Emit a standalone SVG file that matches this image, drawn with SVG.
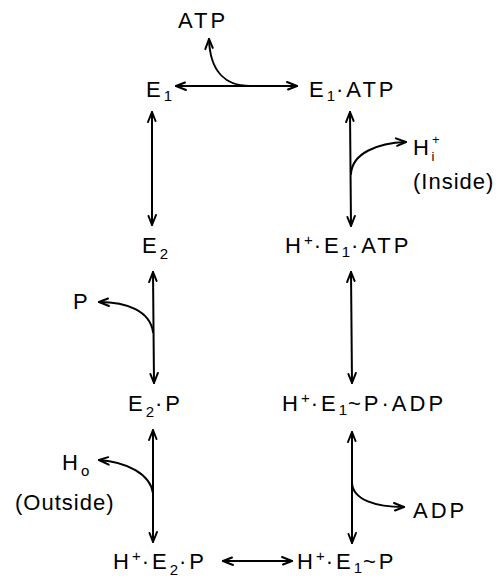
<svg xmlns="http://www.w3.org/2000/svg" width="504" height="581" viewBox="0 0 504 581">
<style>
text{font-family:"Liberation Sans",Arial,sans-serif;font-size:22px;fill:#000;letter-spacing:3px}
.s{font-size:15px;letter-spacing:1px}
.t{font-size:13px;letter-spacing:0}
.p{letter-spacing:1px}
.c{fill:none;stroke:#000;stroke-width:2;stroke-linecap:round}
</style>
<defs>
<marker id="a" viewBox="-12 -6 14 12" markerWidth="14" markerHeight="12" refX="0" refY="0" orient="auto-start-reverse" markerUnits="userSpaceOnUse">
<path d="M-10,-4 L0,0 L-9,3.5" fill="none" stroke="#000" stroke-width="2" stroke-linecap="round" stroke-linejoin="round"/>
</marker>
</defs>
<rect width="504" height="581" fill="#fff"/>
<g id="connectors">
<path class="c" d="M176,86 L297,86" marker-start="url(#a)" marker-end="url(#a)"/>
<path class="c" d="M250,86 C226,86 210,72 209,39" marker-end="url(#a)"/>
<path class="c" d="M152,112 L152,225" marker-start="url(#a)" marker-end="url(#a)"/>
<path class="c" d="M350,112 L351,226" marker-start="url(#a)" marker-end="url(#a)"/>
<path class="c" d="M351,174 C352,153 378,143 406,142" marker-end="url(#a)"/>
<path class="c" d="M153,272 L154,383" marker-start="url(#a)" marker-end="url(#a)"/>
<path class="c" d="M153,332 C150,311 127,302 99,302" marker-end="url(#a)"/>
<path class="c" d="M351,272 L352,383" marker-start="url(#a)" marker-end="url(#a)"/>
<path class="c" d="M153,430 L153,542" marker-start="url(#a)" marker-end="url(#a)"/>
<path class="c" d="M153,493 C150,474 127,462 99,460" marker-end="url(#a)"/>
<path class="c" d="M352,432 L352,543" marker-start="url(#a)" marker-end="url(#a)"/>
<path class="c" d="M352,483 C353,500 376,507 404,507" marker-end="url(#a)"/>
<path class="c" d="M223,561 L292,561" marker-start="url(#a)" marker-end="url(#a)"/>
</g>
<g id="E1"><text x="146" y="97">E<tspan class="s" dy="4">1</tspan></text></g>
<g id="E1ATP"><text x="309" y="97">E<tspan class="s" dy="4">1</tspan><tspan dy="-4">·ATP</tspan></text></g>
<g id="ATP"><text x="178" y="28">ATP</text></g>
<g id="Hi"><text x="413" y="155">H<tspan class="t" dy="-11">+</tspan><tspan class="t" dx="-8" dy="17">i</tspan></text><text class="p" x="413" y="189">(Inside)</text></g>
<g id="E2"><text x="142" y="253">E<tspan class="s" dy="6">2</tspan></text></g>
<g id="HE1ATP"><text x="285" y="253">H<tspan class="s" dy="-8">+</tspan><tspan dy="8">·E</tspan><tspan class="s" dy="4">1</tspan><tspan dy="-4">·ATP</tspan></text></g>
<g id="P"><text x="73" y="309">P</text></g>
<g id="E2P"><text x="128" y="411">E<tspan class="s" dy="6">2</tspan><tspan dy="-6">·P</tspan></text></g>
<g id="HE1PADP"><text x="282" y="411">H<tspan class="s" dy="-8">+</tspan><tspan dy="8">·E</tspan><tspan class="s" dy="4">1</tspan><tspan dy="-4">~P·ADP</tspan></text></g>
<g id="Ho"><text x="62" y="470">H<tspan class="s" dy="6">o</tspan></text><text class="p" x="15" y="510">(Outside)</text></g>
<g id="ADP"><text x="413" y="518">ADP</text></g>
<g id="HE2P"><text x="113" y="569">H<tspan class="s" dy="-8">+</tspan><tspan dy="8">·E</tspan><tspan class="s" dy="6">2</tspan><tspan dy="-6">·P</tspan></text></g>
<g id="HE1P"><text x="297" y="569">H<tspan class="s" dy="-8">+</tspan><tspan dy="8">·E</tspan><tspan class="s" dy="4">1</tspan><tspan dy="-4">~P</tspan></text></g>
</svg>
